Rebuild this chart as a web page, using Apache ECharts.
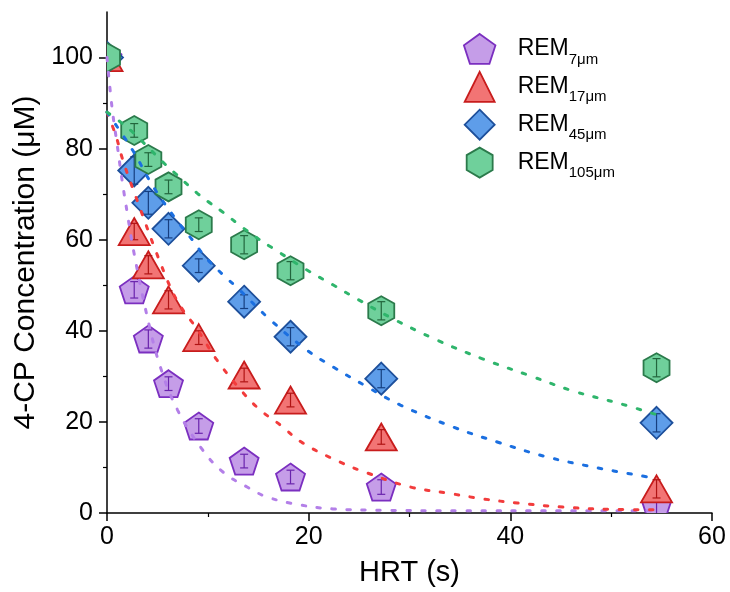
<!DOCTYPE html>
<html>
<head>
<meta charset="utf-8">
<script src="https://cdn.jsdelivr.net/npm/echarts@6/dist/echarts.min.js"></script>
<style>
  html, body { margin: 0; padding: 0; background: #fff; }
  #chart { width: 730px; height: 592px; }
</style>
</head>
<body>
<div id="chart"></div>
<script>
// Hydraulic residence time (s) of each sampling point
const hrt = [0, 2.7, 4.1, 6.1, 9.1, 13.6, 18.2, 27.2, 54.5];

// Measured 4-CP concentration (µM) and error half-widths for each membrane pore size
const rem7 = [100, 49, 38.2, 28.4, 19.1, 11.4, 7.9, 5.7, 1.8];
const rem7Err = [0, 1.8, 2.0, 1.5, 1.6, 1.5, 1.5, 1.6, 2.5];
const rem17 = [100, 61.8, 54.5, 46.8, 38.5, 30.3, 24.8, 16.7, 5.3];
const rem17Err = [0, 1.8, 2.0, 2.0, 1.5, 1.5, 1.5, 1.6, 2.0];
const rem45 = [100, 75.2, 68.1, 62.4, 54.3, 46.4, 38.7, 29.5, 19.8];
const rem45Err = [0, 3.0, 2.5, 2.0, 1.5, 1.5, 2.0, 2.0, 2.0];
const rem105 = [100, 84, 77.6, 71.6, 63.3, 58.9, 53.2, 44.4, 31.9];
const rem105Err = [0, 1.5, 1.5, 1.5, 1.5, 2.0, 2.0, 2.0, 2.0];

// Fitted decay curves (dotted)
const fit7X = [0, 0.5, 1.0, 1.5, 2.0, 2.6, 4.0, 5.3, 7.0, 9.5, 11.5, 13.9, 15.9, 19.1, 22.4, 27.4, 35, 45, 54.5];
const fit7Y = [100, 89, 81, 73, 66, 58, 43, 32, 22.6, 13.8, 9.0, 5.7, 3.5, 1.8, 0.9, 0.6, 0.5, 0.5, 0.5];
const fit17X = [0, 0.6, 1.0, 1.5, 2.5, 6.0, 7.4, 8.9, 10.9, 13.5, 15.2, 17.2, 19.4, 23.1, 25.8, 30.1, 33.7, 37.3, 40.7, 45.2, 49.9, 54.5];
const fit17Y = [88, 84.6, 82, 78, 71.6, 51, 45, 40.5, 33.6, 26.4, 22.6, 19.3, 15.4, 11.2, 8.8, 5.7, 4.4, 3.1, 2.2, 1.3, 0.8, 0.7];
const fit45X = [0, 2.5, 4.6, 7.0, 8.7, 9.7, 11.7, 12.9, 16.2, 19.8, 22.4, 25.8, 29.1, 34.3, 38.7, 43.3, 48.2, 54.5];
const fit45Y = [88, 79.8, 71.6, 64, 59.3, 56.3, 51.9, 49.5, 42.4, 35.8, 32.1, 27.7, 23.7, 18.9, 15.6, 12.5, 10.1, 7.6];
const fit105X = [0, 1.3, 2.6, 5.8, 6.7, 8.9, 10.0, 11.4, 13.5, 15.0, 16.4, 19.8, 22.4, 24.8, 28.4, 32.7, 37.3, 42.0, 46.2, 50.9, 54.5];
const fit105Y = [88, 85.9, 83.5, 76.5, 74.7, 70.3, 68.4, 66.2, 62.6, 60.2, 58.2, 53.4, 50.1, 47, 42.6, 38, 33.8, 30.1, 26.8, 24, 21.6];

// Axis ticks
const xTicks = [0, 20, 40, 60];
const xMinorTicks = [10, 30, 50];
const yTicks = [0, 20, 40, 60, 80, 100];
const yMinorTicks = [10, 30, 50, 70, 90];

const seriesNames = ['REM 7μm', 'REM 17μm', 'REM 45μm', 'REM 105μm'];

// Marker outlines (unit boxes, scaled to the marker size)
const SHAPES = {
  pentagon: 'M50,0 L97.55,34.55 L79.39,90.45 L20.61,90.45 L2.45,34.55 Z',
  triangle: 'M50,0 L100,100 L0,100 Z',
  diamond: 'M50,0 L100,50 L50,100 L0,50 Z',
  hexagon: 'M50,0 L93.3,25 L93.3,75 L50,100 L6.7,75 L6.7,25 Z'
};

const groups = [
  { name: seriesNames[0], y: rem7, err: rem7Err, fx: fit7X, fy: fit7Y, shape: 'pentagon', size: [29, 27],
    fill: '#c59de8', edge: '#7b2fc0', bar: '#6a24ad', line: '#b37fe8' },
  { name: seriesNames[1], y: rem17, err: rem17Err, fx: fit17X, fy: fit17Y, shape: 'triangle', size: [31, 27],
    fill: '#f27474', edge: '#c81c1c', bar: '#b01414', line: '#f23c3c' },
  { name: seriesNames[2], y: rem45, err: rem45Err, fx: fit45X, fy: fit45Y, shape: 'diamond', size: [32, 32],
    fill: '#5e9de9', edge: '#1d4f9b', bar: '#163f80', line: '#1b6fe0' },
  { name: seriesNames[3], y: rem105, err: rem105Err, fx: fit105X, fy: fit105Y, shape: 'hexagon', size: [26, 29],
    fill: '#6fd09b', edge: '#2b7a4b', bar: '#22663d', line: '#2fb56c' }
];

const pairs = (xs, ys) => xs.map((x, i) => [x, ys[i]]);

const series = [];
groups.forEach((g) => {
  // Markers with error bars, clipped to the plotting area
  series.push({
    name: g.name,
    type: 'custom',
    clip: true,
    data: hrt.map((x, i) => [x, g.y[i], g.err[i]]),
    itemStyle: { color: g.fill, borderColor: g.edge, borderWidth: 1.8 },
    z: 2,
    renderItem: function (params, api) {
      const x = api.value(0), y = api.value(1), e = api.value(2);
      const c = api.coord([x, y]);
      const w = g.size[0], h = g.size[1];
      const children = [{
        type: 'path',
        shape: { pathData: SHAPES[g.shape], x: c[0] - w / 2, y: c[1] - h / 2, width: w, height: h, layout: 'cover' },
        style: { fill: g.fill, stroke: g.edge, lineWidth: 1.8, lineJoin: 'miter' }
      }];
      if (e) {
        const top = api.coord([x, y + e]);
        const bot = api.coord([x, y - e]);
        const hw = 4;
        const st = { stroke: g.bar, lineWidth: 1.2 };
        children.push(
          { type: 'line', shape: { x1: top[0], y1: top[1], x2: bot[0], y2: bot[1] }, style: st },
          { type: 'line', shape: { x1: top[0] - hw, y1: top[1], x2: top[0] + hw, y2: top[1] }, style: st },
          { type: 'line', shape: { x1: bot[0] - hw, y1: bot[1], x2: bot[0] + hw, y2: bot[1] }, style: st }
        );
      }
      return { type: 'group', children: children };
    }
  });
});
groups.forEach((g) => {
  series.push({
    name: g.name + ' fit',
    type: 'line',
    data: pairs(g.fx, g.fy),
    smooth: 0.4,
    showSymbol: false,
    symbol: 'none',
    silent: true,
    z: 4,
    lineStyle: { color: g.line, width: 3, type: [3.5, 11.5], cap: 'round' }
  });
});

const axisFont = { fontFamily: 'Liberation Sans, Arial, sans-serif', color: '#000' };

const chart = echarts.init(document.getElementById('chart'), null, { renderer: 'canvas' });
chart.setOption({
  animation: false,
  backgroundColor: '#fff',
  grid: { left: 107, right: 18, top: 12, bottom: 79, containLabel: false, outerBoundsMode: 'none' },
  legend: {
    data: groups.map((g) => ({
      name: g.name,
      icon: 'path://' + SHAPES[g.shape],
      itemStyle: { color: g.fill, borderColor: g.edge, borderWidth: 1.8 }
    })),
    orient: 'vertical',
    left: 458,
    top: 28,
    itemWidth: 32,
    itemHeight: 30,
    itemGap: 4,
    formatter: function (name) {
      const parts = name.split(' ');
      return '{m|' + parts[0] + '}{s|' + parts[1] + '}';
    },
    textStyle: {
      padding: [0, 0, 0, 17],
      rich: {
        m: { fontFamily: 'Liberation Sans, Arial, sans-serif', fontSize: 23, color: '#000', lineHeight: 36, verticalAlign: 'middle' },
        s: { fontFamily: 'Liberation Sans, Arial, sans-serif', fontSize: 15, color: '#000', lineHeight: 36, verticalAlign: 'bottom', padding: [14, 0, 0, 0] }
      }
    }
  },
  xAxis: [{
    type: 'value',
    min: 0, max: 60, interval: 20,
    name: 'HRT (s)',
    nameLocation: 'middle',
    nameGap: 45,
    nameTextStyle: Object.assign({ fontSize: 29 }, axisFont),
    splitLine: { show: false },
    axisLine: { show: true, lineStyle: { color: '#000', width: 1.5 } },
    axisTick: { show: true, inside: false, length: 8, lineStyle: { color: '#000', width: 1.5 }, customValues: xTicks },
    minorTick: { show: false },
    axisLabel: Object.assign({ fontSize: 25, margin: 12, customValues: xTicks }, axisFont)
  }, {
    type: 'value',
    min: 0, max: 60,
    position: 'bottom',
    axisLine: { show: false },
    axisLabel: { show: false },
    splitLine: { show: false },
    axisTick: { show: true, inside: false, length: 4, lineStyle: { color: '#000', width: 1.2 }, customValues: xMinorTicks }
  }],
  yAxis: [{
    type: 'value',
    min: 0, max: 110, interval: 20,
    name: '4-CP Concentration (μM)',
    nameLocation: 'middle',
    nameGap: 62,
    nameTextStyle: Object.assign({ fontSize: 30 }, axisFont),
    splitLine: { show: false },
    axisLine: { show: true, lineStyle: { color: '#000', width: 1.5 } },
    axisTick: { show: true, inside: false, length: 8, lineStyle: { color: '#000', width: 1.5 }, customValues: yTicks },
    axisLabel: Object.assign({ fontSize: 25, margin: 14, customValues: yTicks }, axisFont)
  }, {
    type: 'value',
    min: 0, max: 110,
    position: 'left',
    axisLine: { show: false },
    axisLabel: { show: false },
    splitLine: { show: false },
    axisTick: { show: true, inside: false, length: 4, lineStyle: { color: '#000', width: 1.2 }, customValues: yMinorTicks }
  }],
  series: series
});
</script>
</body>
</html>
